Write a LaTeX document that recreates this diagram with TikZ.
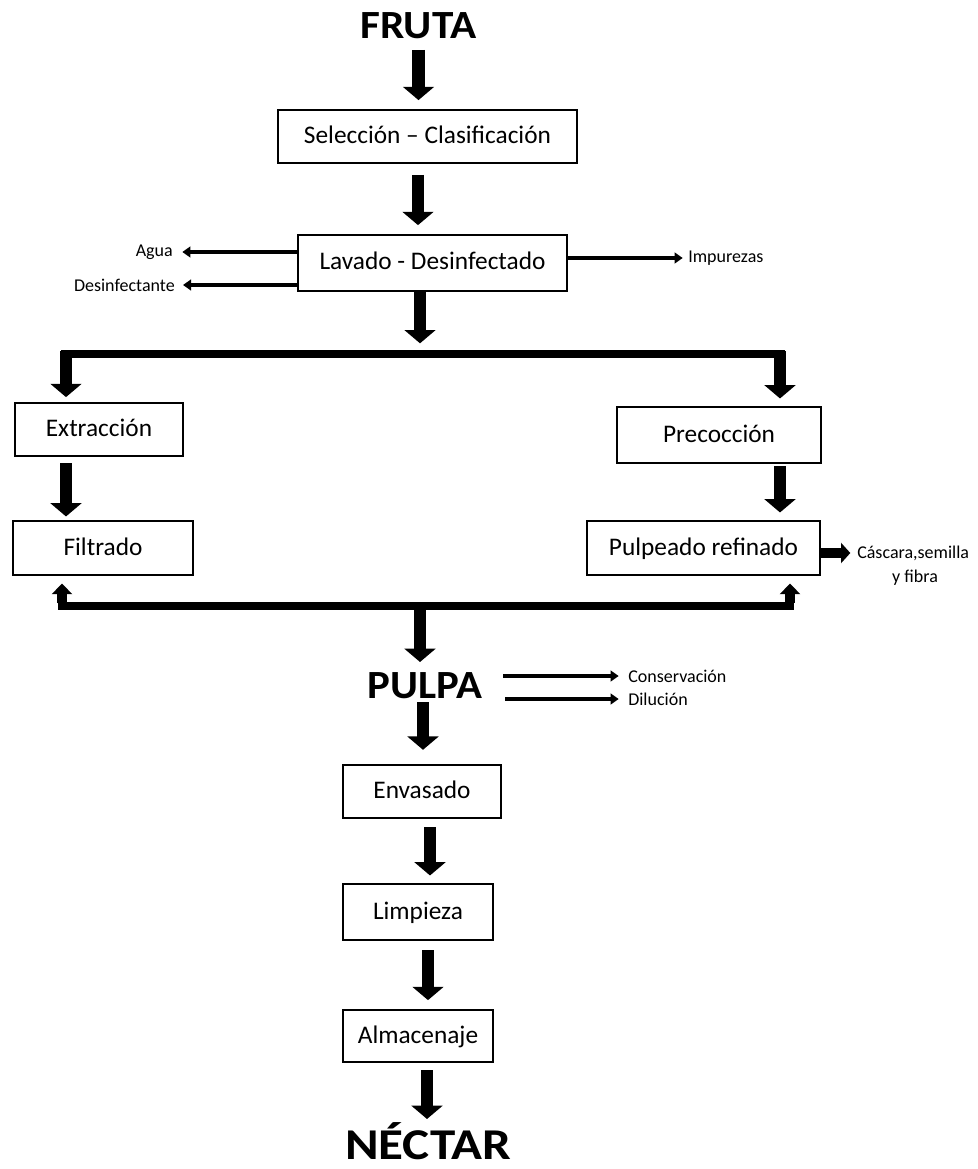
\documentclass[tikz,border=0pt]{standalone}
\usepackage{fontspec}
\setmainfont{Carlito}
\usetikzlibrary{arrows.meta}
\begin{document}
\begin{tikzpicture}[x=0.75pt,y=-0.75pt,
  box/.style={draw, line width=0.8pt, inner sep=0pt, text height=14pt, text depth=3.5pt, font=\fontsize{19}{22}\selectfont},
  big/.style={line width=9.5pt, -{Triangle[length=10pt,width=23pt]}},
  up/.style={line width=7.5pt, -{Triangle[length=8pt,width=15pt]}},
  bar/.style={line width=6pt},
  small/.style={line width=3.6pt, -{Triangle[length=6pt,width=8pt]}},
  lbl/.style={inner sep=0pt, font=\fontsize{13.5}{16}\selectfont},
  ttl/.style={inner sep=0pt, anchor=base, font=\bfseries\fontsize{30}{36}\selectfont}]
\useasboundingbox (0,0) rectangle (977,1169);

% titles
\node[ttl] (fruta) at (418.5,39) {\scalebox{1.08}[1]{FRUTA}};
\node[ttl] (pulpa) at (425,698) {\scalebox{1.07}[1]{PULPA}};
\node[ttl, font=\bfseries\fontsize{33}{38}\selectfont] (nectar) at (428,1159) {\scalebox{1.16}[1]{NÉCTAR}};

% boxes
\node[box, minimum width=224.25pt, minimum height=39.75pt] (sel) at (427.5,136.5) {Selección – Clasificación};
\node[box, minimum width=201.75pt, minimum height=42pt] (lav) at (432.5,263) {Lavado - Desinfectado};
\node[box, minimum width=126pt, minimum height=39.75pt] (ext) at (99,429.5) {Extracción};
\node[box, minimum width=153pt, minimum height=42pt] (pre) at (719,435) {Precocción};
\node[box, minimum width=135pt, minimum height=40.5pt] (fil) at (103,548) {Filtrado};
\node[box, minimum width=174.75pt, minimum height=40.5pt] (pul) at (703.5,548) {Pulpeado refinado};
\node[box, minimum width=118.5pt, minimum height=39.75pt] (env) at (422,791.5) {Envasado};
\node[box, minimum width=112.5pt, minimum height=42pt] (lim) at (418,912) {Limpieza};
\node[box, minimum width=112.5pt, minimum height=39pt] (alm) at (418,1036) {Almacenaje};

% side labels
\node[lbl, anchor=east] (agua) at (173,252) {Agua};
\node[lbl, anchor=east] (desinf) at (175,285) {Desinfectante};
\node[lbl, anchor=west] (impur) at (688,258) {Impurezas};
\node[lbl, anchor=west] (casc) at (857,553) {Cáscara,semilla};
\node[lbl] (fibra) at (915,578) {y fibra};
\node[lbl, anchor=west] (cons) at (628,676) {Conservación};
\node[lbl, anchor=west] (dil) at (628,699) {Dilución};

% junction coordinates
\coordinate (t1) at (420,354);
\coordinate (tl) at (66,354);
\coordinate (tr) at (780,354);
\coordinate (b1) at (420,606);
\coordinate (bl) at (62,606);
\coordinate (br) at (790,606);

% main flow
\draw[big] (fruta.south |- 0,50) -- ([yshift=7pt]sel.north -| fruta.south);
\draw[big] (418,175) -- ([yshift=7pt]lav.north -| 418,0);
\draw[big] (lav.south -| t1) -- ([yshift=8pt]t1);
\draw[bar] ([xshift=-3.5pt]tl) -- ([xshift=3.5pt]tr);
\draw[big] ([yshift=2pt]tl) -- ([yshift=4pt]ext.north -| tl);
\draw[big] ([yshift=2pt]tr) -- ([yshift=6pt]pre.north -| tr);
\draw[big] ([yshift=-5pt]ext.south -| tl) -- ([yshift=3pt]fil.north -| tl);
\draw[big] ([yshift=-2pt]pre.south -| tr) -- ([yshift=6pt]pul.north -| tr);
\draw[bar] ([xshift=-2.8pt]bl) -- ([xshift=2.8pt]br);
\draw[up] ([yshift=2pt]bl) -- ([yshift=-6pt]fil.south -| bl);
\draw[up] ([yshift=2pt]br) -- ([yshift=-6pt]pul.south -| br);
\draw[big] ([yshift=-1pt]b1) -- (420,662);
\draw[big] (423,702) -- ([yshift=11pt]env.north -| 423,0);
\draw[big] (430,827) -- ([yshift=6pt]lim.north -| 430,0);
\draw[big] (428,950) -- ([yshift=7pt]alm.north -| 428,0);
\draw[big] (427,1070) -- (427,1119);

% side flows
\draw[small] (lav.west |- agua) -- ([xshift=7pt]agua.east);
\draw[small] (lav.west |- desinf) -- ([xshift=6pt]desinf.east);
\draw[small] (lav.east |- impur) -- ([xshift=-4pt]impur.west);
\draw[line width=7pt, -{Triangle[length=7pt,width=15pt]}] (pul.east |- casc) -- ([xshift=-5pt]casc.west);
\draw[small] (503,676) -- ([xshift=-7pt]cons.west);
\draw[small] (505,699) -- ([xshift=-7pt]dil.west);
\end{tikzpicture}
\end{document}
